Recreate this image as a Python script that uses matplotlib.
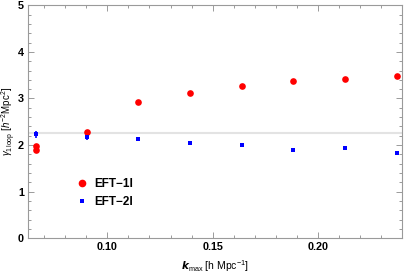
import matplotlib
matplotlib.use("Agg")
import matplotlib.pyplot as plt
from matplotlib.lines import Line2D
from matplotlib.ticker import MultipleLocator

plt.rcParams["font.family"] = ["Liberation Sans", "DejaVu Sans"]
plt.rcParams["mathtext.fontset"] = "custom"
plt.rcParams["mathtext.rm"] = "Liberation Sans"
plt.rcParams["mathtext.it"] = "Liberation Sans:italic"
plt.rcParams["mathtext.bf"] = "Liberation Sans:bold"

# ── datos ──────────────────────────────────────────────────────────────────
k_1l = [0.0661, 0.0661, 0.0903, 0.1147, 0.1393, 0.1638, 0.1884, 0.2131, 0.2378]
gamma_1l = [1.97, 1.90, 2.28, 2.92, 3.12, 3.27, 3.37, 3.42, 3.49]
err_1l = [0.06, 0.06, 0.05, 0.0, 0.0, 0.0, 0.0, 0.0, 0.0]

k_2l = [0.0661, 0.0903, 0.1147, 0.1393, 0.1638, 0.1884, 0.2131, 0.2378]
gamma_2l = [2.23, 2.18, 2.14, 2.05, 2.00, 1.89, 1.93, 1.83]
err_2l = [0.08, 0.06, 0.03, 0.0, 0.0, 0.0, 0.0, 0.0]

gamma_ref = 2.27
labels = ["EFT\u22121l", "EFT\u22122l"]

frame_col = "#9a9a9a"
red, blue = "#ff0000", "#0000ff"

fig = plt.figure(figsize=(4.07, 2.74), dpi=100)
ax = fig.add_axes([0.0695, 0.1303, 0.9175, 0.8504])

ax.axhline(gamma_ref, color="#e3e3e3", lw=1.5, zorder=1)

ax.errorbar(k_1l, gamma_1l, yerr=err_1l, fmt="o", color=red, ms=4.8,
            mew=0, elinewidth=1.2, capsize=1.8, capthick=1.2, zorder=3)
ax.errorbar(k_2l, gamma_2l, yerr=err_2l, fmt="s", color=blue, ms=3.3,
            mew=0, elinewidth=1.2, capsize=1.8, capthick=1.2, zorder=3)

ax.set_xlim(0.0624, 0.2399)
ax.set_ylim(0, 5)
ax.xaxis.set_minor_locator(MultipleLocator(0.01))
ax.yaxis.set_major_locator(MultipleLocator(1))
ax.yaxis.set_minor_locator(MultipleLocator(0.2))
ax.set_xticks([0.10, 0.15, 0.20])
ax.set_xticklabels(["0.10", "0.15", "0.20"])

for s in ax.spines.values():
    s.set_color(frame_col)
    s.set_linewidth(0.8)
ax.tick_params(which="both", direction="in", top=True, right=True, color=frame_col,
               width=0.7, labelsize=7.8, pad=3)
ax.tick_params(which="major", length=4)
ax.tick_params(which="minor", length=2.3)
for lab in ax.get_xticklabels() + ax.get_yticklabels():
    lab.set_fontweight("bold")

ax.set_xlabel(r"$\boldsymbol{k}_{\rm max}$ [h Mpc$^{-1}$]", fontsize=7.5, labelpad=4)
ax.set_ylabel(r"$\gamma_{1\,\rm loop}$ [$h^{-2}$Mpc$^{2}$]", fontsize=7.0,
              va="center", ha="center")
ax.yaxis.set_label_coords(-0.052, 0.5)

handles = [
    Line2D([], [], ls="none", marker="o", color=red, ms=5.5, mew=0),
    Line2D([], [], ls="none", marker="s", color=blue, ms=3.2, mew=0),
]
leg = ax.legend(handles, labels, loc="upper left", bbox_to_anchor=(0.113, 0.285),
                frameon=False, fontsize=8.5, handletextpad=0.5, labelspacing=0.55,
                borderpad=0, handlelength=1.0)
for t in leg.get_texts():
    t.set_fontweight("bold")

fig.savefig("out.png", dpi=100)
